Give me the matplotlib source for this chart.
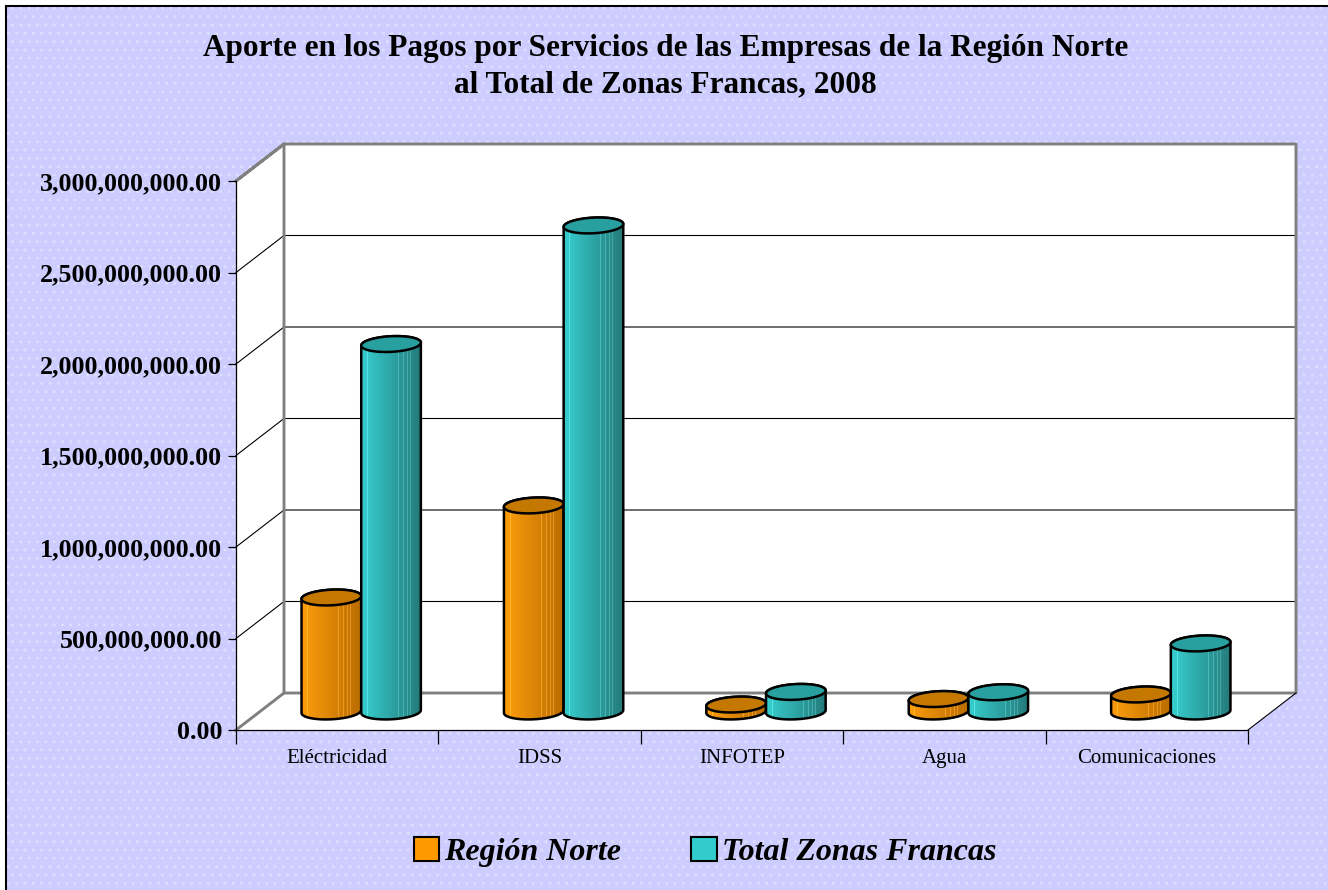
import numpy as np
import matplotlib.pyplot as plt
from matplotlib.patches import Polygon, Rectangle, Patch

plt.rcParams["font.family"] = ["Liberation Serif", "DejaVu Serif"]

# Data
categories = ["Eléctricidad", "IDSS", "INFOTEP", "Agua", "Comunicaciones"]
region_norte = [623e6, 1126e6, 38e6, 68e6, 93e6]
total_zonas = [2008e6, 2656e6, 107e6, 105e6, 372e6]
y_ticks = [0, 500e6, 1000e6, 1500e6, 2000e6, 2500e6, 3000e6]
series_names = ["Región Norte", "Total Zonas Francas"]

# Colours (side left/right, top, legend)
side_left = [(1.00, 0.62, 0.05), (0.22, 0.82, 0.82)]
side_right = [(0.72, 0.42, 0.00), (0.14, 0.47, 0.47)]
top_colors = ["#C47800", "#28A0A0"]
legend_colors = ["#FF9900", "#33CCCC"]

W, H = 1328, 890
fig = plt.figure(figsize=(W / 100, H / 100), dpi=100, facecolor="white")

# Lavender chart area with dotted pattern
fig.patches.append(Rectangle((6 / W, -0.1), 1.2, 1.1 - 6 / H, transform=fig.transFigure,
                             facecolor="#CCCCFF", edgecolor="black", lw=1.5, zorder=-10))
fig.patches.append(Rectangle((6.5 / W, -0.1), 1.2, 1.1 - 7 / H, transform=fig.transFigure,
                             facecolor="none", edgecolor="#DDDDFF", lw=0, hatch="..", zorder=-9))

# Front plane of the 3D box
ax = fig.add_axes([236 / W, 1 - 730 / H, 1012 / W, 549 / H])
ax.patch.set_visible(False)
n = len(categories)
ymax = y_ticks[-1]
pos = ax.get_position()
sx = n / (pos.width * W)      # data units per pixel
sy = ymax / (pos.height * H)
dx, dy = 48 * sx, 37 * sy     # depth offset

gray = "#808080"
# walls and floor
ax.add_patch(Polygon([(dx, dy), (n + dx, dy), (n + dx, ymax + dy), (dx, ymax + dy)],
                     closed=True, facecolor="white", edgecolor="none", clip_on=False, zorder=0.2))
ax.add_patch(Polygon([(0, 0), (dx, dy), (dx, ymax + dy), (0, ymax)],
                     closed=True, facecolor="white", edgecolor="none", clip_on=False, zorder=0.2))
ax.add_patch(Polygon([(0, 0), (n, 0), (n + dx, dy), (dx, dy)],
                     closed=True, facecolor="white", edgecolor="none", clip_on=False, zorder=0.2))

# gridlines
for v in y_ticks[1:-1]:
    ax.plot([0, dx, n + dx], [v, v + dy, v + dy], color="black", lw=0.8, clip_on=False, zorder=0.5)

# gray box edges
ax.plot([0, dx, n + dx, n + dx, dx, dx, 0], [ymax, ymax + dy, ymax + dy, dy, dy, ymax + dy, ymax],
        color=gray, lw=2.1, clip_on=False, zorder=0.6)
ax.plot([0, dx], [0, dy], color=gray, lw=2.1, clip_on=False, zorder=0.6)
ax.plot([n, n + dx], [0, dy], color="black", lw=0.8, clip_on=False, zorder=0.6)

# Cylinders
bar_w = 0.295
a_px = bar_w / 2 / sx
b_px = 7.8
tilt = np.deg2rad(3)


def ellipse(cx, cy, t):
    u = a_px * np.cos(t)
    v = b_px * np.sin(t)
    x = cx + (u * np.cos(tilt) - v * np.sin(tilt)) * sx
    y = cy + (u * np.sin(tilt) + v * np.cos(tilt)) * sy
    return x, y


def shade(left, right, steps=80):
    f = np.linspace(0, 1, steps)
    left = np.array(left)
    right = np.array(right)
    cols = left[None, :] * (1 - f[:, None]) + right[None, :] * f[:, None]
    for s in [0.12, 0.45, 0.62, 0.70, 0.76, 0.82, 0.87]:
        k = int(s * (steps - 1))
        cols[k] = np.clip(cols[k] + 0.12, 0, 1)
    return cols[None, :, :]


base = dy / 2
for s, values in enumerate([region_norte, total_zonas]):
    for i, val in enumerate(values):
        cx = i + 0.5 + dx / 2 + (s - 0.5) * bar_w
        top = base + val
        xb, yb = ellipse(cx, base, np.linspace(np.pi, 2 * np.pi, 60))
        xt, yt = ellipse(cx, top, np.linspace(0, np.pi, 60))
        sil = np.column_stack([np.r_[xb, xt], np.r_[yb, yt]])
        clip = Polygon(sil, closed=True, transform=ax.transData)
        im = ax.imshow(shade(side_left[s], side_right[s]), aspect="auto", interpolation="nearest",
                       extent=[cx - bar_w * 0.52, cx + bar_w * 0.52, base - 12 * sy, top + 12 * sy],
                       zorder=3 + s)
        im.set_clip_path(clip)
        ax.add_patch(Polygon(sil, closed=True, facecolor="none", edgecolor="black", lw=1.8, zorder=3.1 + s))
        xe, ye = ellipse(cx, top, np.linspace(0, 2 * np.pi, 100))
        ax.add_patch(Polygon(np.column_stack([xe, ye]), closed=True, facecolor=top_colors[s],
                             edgecolor="black", lw=1.8, zorder=3.2 + s))

ax.set_xlim(0, n)
ax.set_ylim(0, ymax)

# Axes, ticks, labels
for side in ["top", "right"]:
    ax.spines[side].set_visible(False)
for side in ["left", "bottom"]:
    ax.spines[side].set_color("black")
    ax.spines[side].set_linewidth(0.9)
    ax.spines[side].set_zorder(2)

ax.set_yticks(y_ticks)
ax.set_yticklabels([f"{v:,.2f}" for v in y_ticks], fontsize=18.7, fontweight="bold")
ax.tick_params(axis="y", direction="out", length=6, width=0.9, pad=4)
ax.set_xticks(range(n + 1))
ax.set_xticklabels([])
ax.set_xticks([i + 0.5 for i in range(n)], minor=True)
ax.set_xticklabels(categories, minor=True, fontsize=15)
ax.tick_params(axis="x", which="major", direction="out", length=10, width=0.9)
ax.tick_params(axis="x", which="minor", length=0, pad=14)

fig.text(0.501, 1 - 67 / H,
         "Aporte en los Pagos por Servicios de las Empresas de la Región Norte\nal Total de Zonas Francas, 2008",
         ha="center", va="center", fontsize=22.5, fontweight="bold", linespacing=1.35)

handles = [Patch(facecolor=c, edgecolor="black", lw=1.5) for c in legend_colors]
fig.legend(handles, series_names, loc="center", bbox_to_anchor=(705 / W, 1 - 852 / H), ncol=2,
           frameon=False, prop={"size": 23, "weight": "bold", "style": "italic"},
           handlelength=0.8, handleheight=0.8, handletextpad=0.15, columnspacing=2.2)

fig.savefig("out.png", dpi=100, facecolor="white")
